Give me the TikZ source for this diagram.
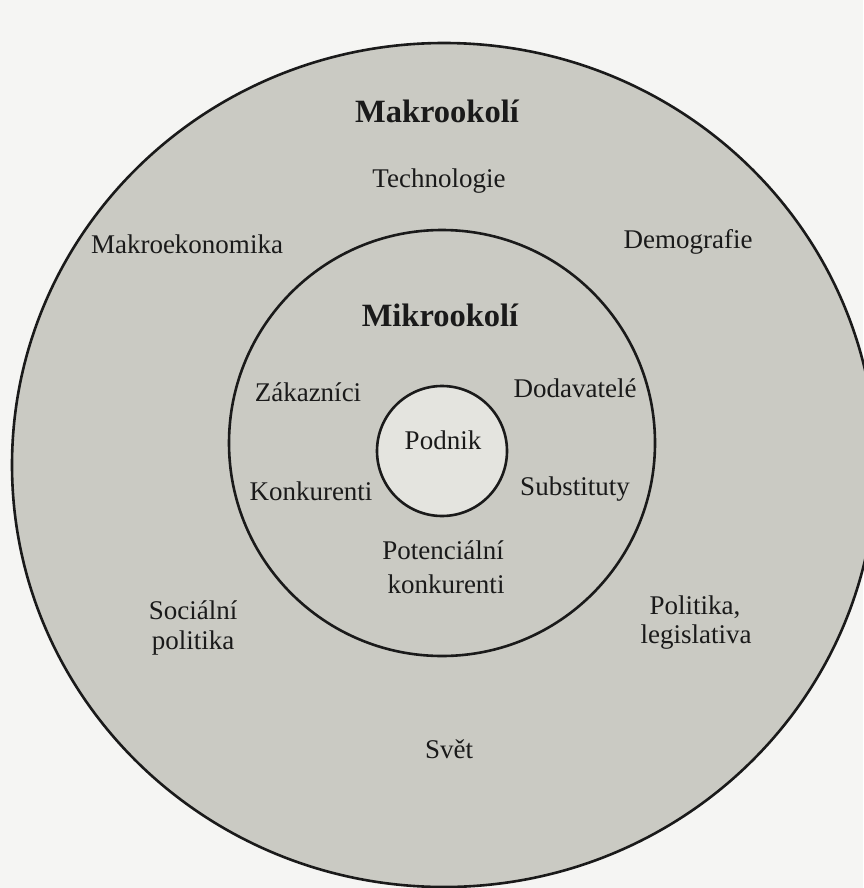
\documentclass[tikz,border=0pt]{standalone}
\usepackage{fontspec}
\setmainfont{Liberation Serif}
\definecolor{paper}{HTML}{F5F5F3}
\definecolor{ringgray}{HTML}{CACAC3}
\definecolor{coregray}{HTML}{E4E4DF}
\definecolor{ink}{HTML}{1A1A1A}
\begin{document}
\begin{tikzpicture}[x=1pt,y=-1pt,
  lbl/.style={font=\fontsize{27}{32}\selectfont, text=ink, inner sep=0pt, anchor=base},
  ttl/.style={font=\fontsize{32.5}{38}\selectfont\bfseries, text=ink, inner sep=0pt, anchor=base},
  ring/.style={draw=ink, line width=2.6pt}]
\useasboundingbox[fill=paper] (0,0) rectangle (863,888);
% circles
\draw[ring, fill=ringgray] (444,465) ellipse [x radius=432, y radius=422];
\draw[ring, fill=ringgray] (442,443) circle [radius=213];
\draw[ring, fill=coregray] (442,451) circle [radius=65];
% macro environment
\node[ttl] (makro) at (437,122) {Makrookolí};
\node[lbl] (tech) at (439,187) {Technologie};
\node[lbl] (makroek) at (187,253) {Makroekonomika};
\node[lbl] (demo) at (688,248) {Demografie};
\node[lbl] (soc1) at (193,619) {Sociální};
\node[lbl] (soc2) at (193,649) {politika};
\node[lbl] (pol1) at (695,614) {Politika,};
\node[lbl] (pol2) at (696,643) {legislativa};
\node[lbl] (svet) at (449,758) {Svět};
% micro environment
\node[ttl] (mikro) at (440,326) {Mikrookolí};
\node[lbl] (zak) at (308,401) {Zákazníci};
\node[lbl] (dod) at (575,397) {Dodavatelé};
\node[lbl] (kon) at (311,500) {Konkurenti};
\node[lbl] (sub) at (575,495) {Substituty};
\node[lbl] (pot1) at (443,559) {Potenciální};
\node[lbl] (pot2) at (446,593) {konkurenti};
% core
\node[lbl] (podnik) at (443,449) {Podnik};
\end{tikzpicture}
\end{document}
